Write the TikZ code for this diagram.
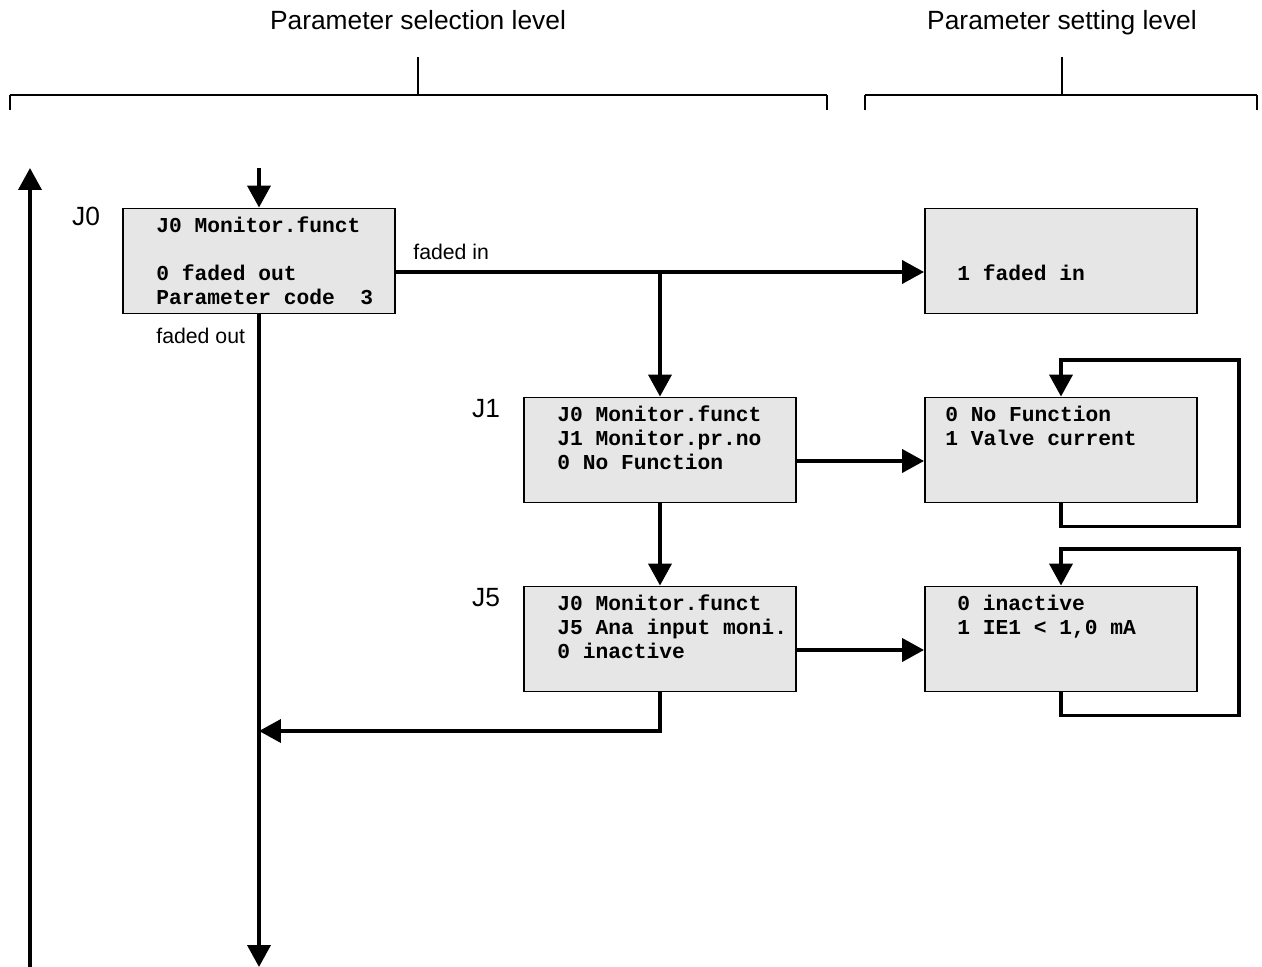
\documentclass[tikz,border=0pt]{standalone}
\usepackage{fontspec}
\setmainfont{Liberation Sans}
\newfontfamily\boxfont{Liberation Mono}
\usetikzlibrary{positioning, arrows.meta}
\definecolor{boxgray}{HTML}{E6E6E6}

\begin{document}
\begin{tikzpicture}[
    x=0.02cm, y=-0.02cm,
    >={Triangle[length=0.44cm, width=0.46cm]},
    flow/.style={->, line width=2.2pt},
    box/.style={draw, fill=boxgray, line width=1.1pt, minimum width=5.44cm, minimum height=2.1cm, inner sep=0pt},
    boxtext/.style={font=\boxfont\bfseries\fontsize{12.1}{13.66}\selectfont, align=left, inner sep=0pt, yshift=-0.05cm},
    lvl/.style={font=\fontsize{15}{18}\selectfont, text height=11pt, text depth=3pt},
    note/.style={font=\fontsize{12.1}{14}\selectfont, anchor=west, inner sep=0pt}
]
    \useasboundingbox (0,0) rectangle (1262,967);

    % levels
    \node[lvl] (sel) at (418,22)  {Parameter selection level};
    \node[lvl] (set) at (1062,22) {Parameter setting level};
    \draw[line width=0.7pt] (10,110) -- (10,95) (827,95) -- (827,110) (418,57) -- (418,95);
    \draw[line width=0.7pt] (865,110) -- (865,95) (1257,95) -- (1257,110) (1062,57) -- (1062,95);
    \draw[line width=1.3pt] (10,95) -- (827,95) (865,95) -- (1257,95);

    % boxes
    \node[box] (j0)  at (259,261)  {};
    \node[box] (fin) at (1061,261) {};
    \node[box] (j1)  at (660,450)  {};
    \node[box] (nof) at (1061,450) {};
    \node[box] (j5)  at (660,639)  {};
    \node[box] (ina) at (1061,639) {};

    \node[boxtext, right=0.68cm of j0.west]  (j0t)  {\strut J0 Monitor.funct\\\strut\\\strut 0 faded out\\\strut Parameter code~~3};
    \node[boxtext, right=0.66cm of fin.west] (fint) {\strut\\\strut\\\strut 1 faded in\\\strut};
    \node[boxtext, right=0.68cm of j1.west]  (j1t)  {\strut J0 Monitor.funct\\\strut J1 Monitor.pr.no\\\strut 0 No Function\\\strut};
    \node[boxtext, right=0.42cm of nof.west] (noft) {\strut 0 No Function\\\strut 1 Valve current\\\strut\\\strut};
    \node[boxtext, right=0.68cm of j5.west]  (j5t)  {\strut J0 Monitor.funct\\\strut J5 Ana input moni.\\\strut 0 inactive\\\strut};
    \node[boxtext, right=0.66cm of ina.west] (inat) {\strut 0 inactive\\\strut 1 IE1 < 1,0 mA\\\strut\\\strut};

    \node[lvl] (j0lab) at (86,218)  {J0};
    \node[lvl] (j1lab) at (486,410) {J1};
    \node[lvl] (j5lab) at (486,599) {J5};
    \node[note] (inlab)  at (413,252) {faded in};
    \node[note] (outlab) at (156,336) {faded out};

    % connectors
    \coordinate (feed) at (259,168);
    \coordinate (exit) at (259,967);
    \coordinate (back) at (259,731);
    \coordinate (fork) at (660,272);
    \coordinate (up0)  at (30,967);
    \coordinate (up1)  at (30,168);

    \draw[flow] (up0) -- (up1);
    \draw[flow] (feed) -- (j0.north);
    \draw[flow] ([yshift=-0.22cm]j0.east) -- ([yshift=-0.22cm]fin.west);
    \draw[flow] (fork) -- (j1.north);
    \draw[flow] ([yshift=-0.22cm]j1.east) -- ([yshift=-0.22cm]nof.west);
    \draw[flow] (j1.south) -- (j5.north);
    \draw[flow] ([yshift=-0.22cm]j5.east) -- ([yshift=-0.22cm]ina.west);
    \draw[flow] (j0.south) -- (exit);
    \draw[flow] (j5.south) |- (back);
    \draw[flow] (nof.south) -- ++(0,23) -| (1239,360) -| (nof.north);
    \draw[flow] (ina.south) -- ++(0,23) -| (1239,549) -| (ina.north);
\end{tikzpicture}
\end{document}
